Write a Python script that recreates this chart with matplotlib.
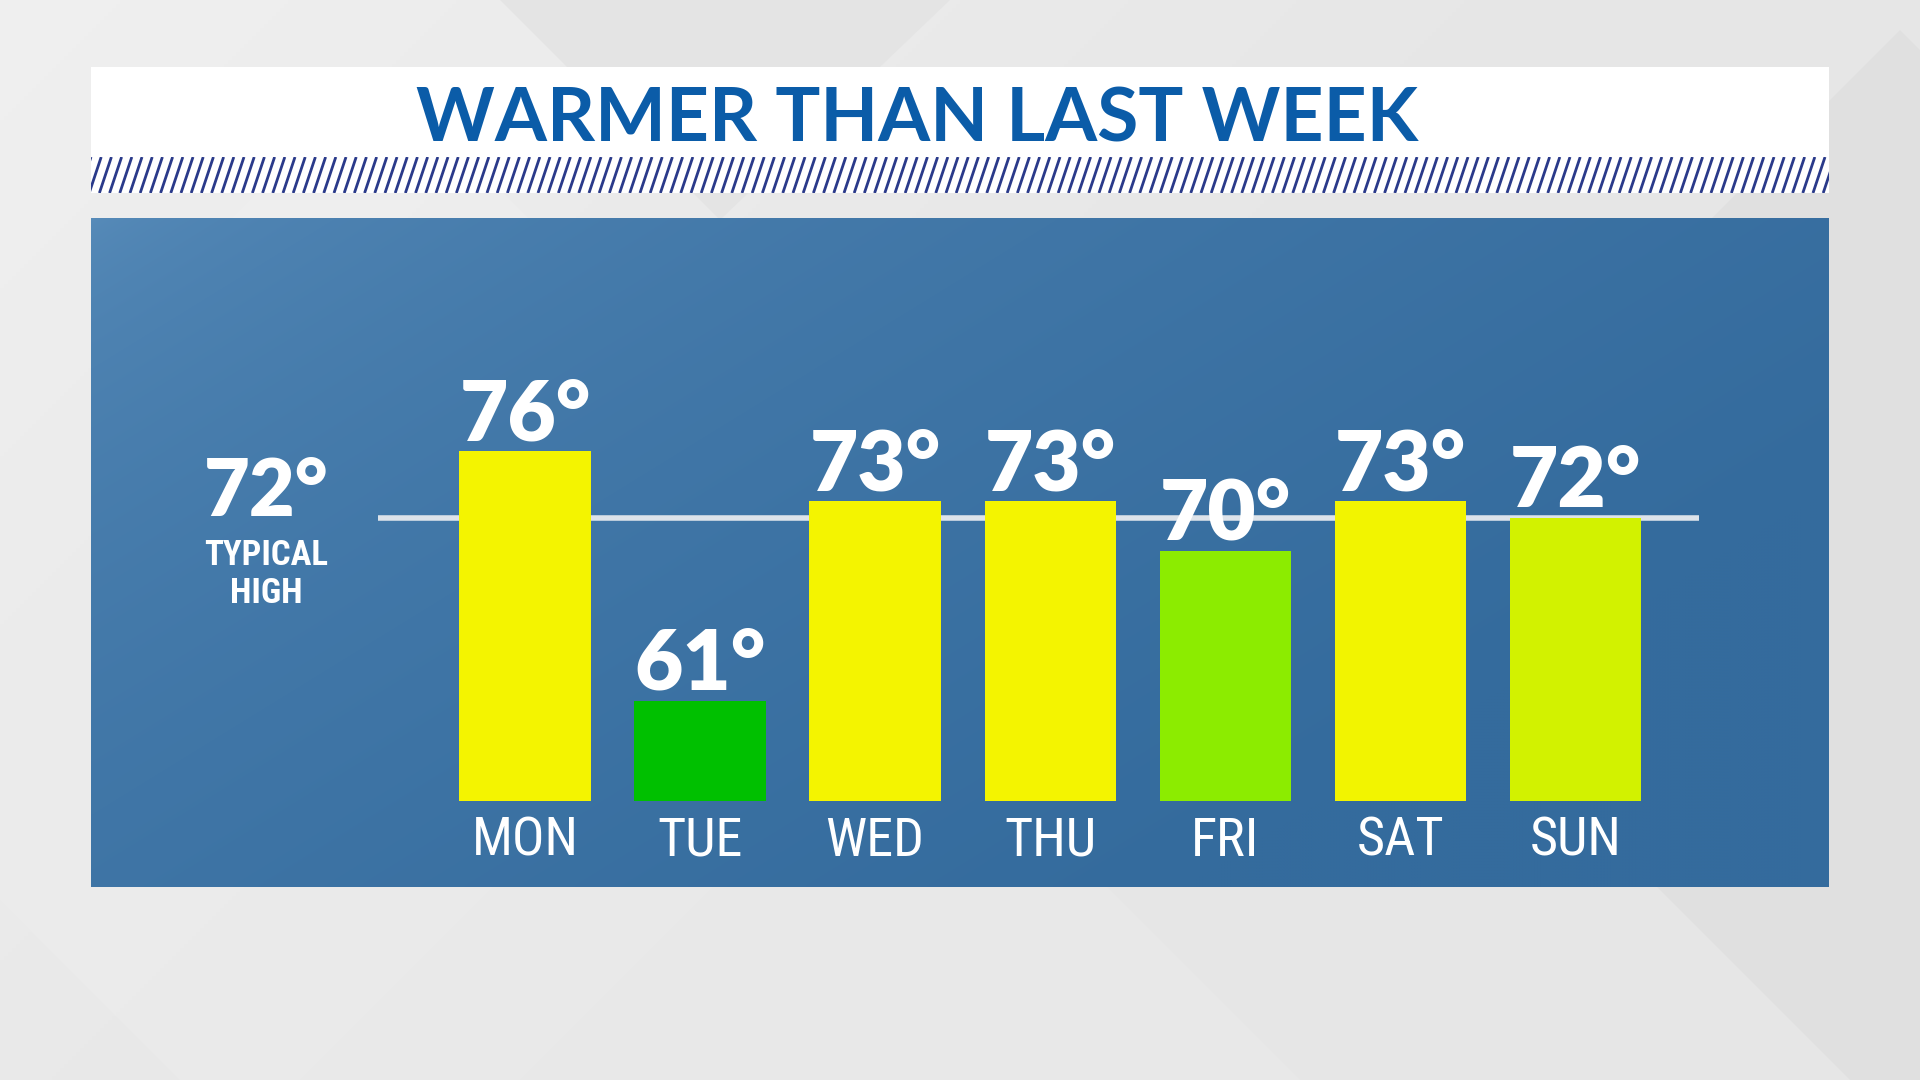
import numpy as np
import matplotlib
matplotlib.use("Agg")
import matplotlib.pyplot as plt
from matplotlib.patches import Rectangle, Polygon
from matplotlib.collections import LineCollection

# ---------------- data ----------------
days = ["MON", "TUE", "WED", "THU", "FRI", "SAT", "SUN"]
highs = [76, 61, 73, 73, 70, 73, 72]
bar_colors = ["#f4f400", "#00c000", "#f4f400", "#f4f400", "#8cec00", "#f2f400", "#d2f200"]
typical_high = 72
title = "WARMER THAN LAST WEEK"
typical_label = ["TYPICAL", "HIGH"]
base_temp = 55

NARROW = ["Roboto Condensed", "Liberation Sans Narrow", "Roboto", "DejaVu Sans"]
BOLD = ["Lato", "DejaVu Sans"]

W, H = 1920, 1080
fig = plt.figure(figsize=(W / 100, H / 100), dpi=100)

# ---------------- background layer (pixel coords) ----------------
bg = fig.add_axes([0, 0, 1, 1])
bg.set_xlim(0, W)
bg.set_ylim(H, 0)
bg.axis("off")

yy, xx = np.mgrid[0:H:4, 0:W:4]
g = 0.905 + 0.035 * np.clip(1 - (xx + yy) / 1500, 0, 1)
bg.imshow(np.dstack([g, g, g]), extent=(0, W, H, 0), aspect="auto", zorder=0)

# faint diamond shapes
diamonds = [
    ([(-200, 700), (350, 150), (900, 700), (350, 1250)], "#ececec"),
    ([(300, 1080), (800, 580), (1300, 1080), (800, 1580)], "#e9e9e9"),
    ([(1350, 580), (1900, 30), (2450, 580), (1900, 1130)], "#dedede"),
    ([(150, 300), (380, 70), (600, 290), (380, 520)], "#efefef"),
    ([(500, 0), (720, -220), (950, 0), (720, 220)], "#e2e2e2"),
]
for pts, c in diamonds:
    bg.add_patch(Polygon(pts, closed=True, facecolor=c, edgecolor="none", alpha=0.7, zorder=1))

# white title panel
x0, x1 = 91, 1829
bg.add_patch(Rectangle((x0, 67), x1 - x0, 126, facecolor="white", edgecolor="none", zorder=2))

# hatch band
hy0, hy1 = 157, 193
slant = 12
segs = []
for xs in np.arange(x0 - slant, x1 + 10, 10.2):
    segs.append([(xs, hy1), (xs + slant, hy0)])
lc = LineCollection(segs, colors="#2a3a8a", linewidths=2.0, zorder=3)
bg.add_collection(lc)
lc.set_clip_path(Rectangle((x0, hy0), x1 - x0, hy1 - hy0, transform=bg.transData))

# blue panel with diagonal gradient
py0, py1 = 218, 887
pyy, pxx = np.mgrid[0:(py1 - py0):3, 0:(x1 - x0):3]
t = np.clip((pxx / 1738.0) * 0.8 + (pyy / 669.0) * 0.5, 0, 1)
t = t ** 0.5
c_light = np.array([0x58, 0x8c, 0xba]) / 255.0
c_dark = np.array([0x34, 0x6b, 0x9d]) / 255.0
img = c_light[None, None, :] * (1 - t[..., None]) + c_dark[None, None, :] * t[..., None]
bg.imshow(img, extent=(x0, x1, py1, py0), aspect="auto", zorder=2, interpolation="bilinear")

# title
fig.text(917 / W, 1 - 141 / H, title, ha="center", va="baseline",
         fontsize=54, fontweight="bold", color="#0b5ca8", family=BOLD)

# ---------------- chart layer ----------------
ax = fig.add_axes([x0 / W, (H - py1) / H, (x1 - x0) / W, (py1 - py0) / H])
ax.patch.set_alpha(0)
ax.set_xlim(-2.48, 7.45)
ax.set_ylim(49.83, 90.0)
ax.axis("off")

xpos = np.arange(len(days))
ax.plot([-0.84, 6.71], [typical_high, typical_high], color="#dde3ea", lw=4.0,
        solid_capstyle="butt", zorder=1)
ax.bar(xpos, [h - base_temp for h in highs], bottom=base_temp, width=0.75,
       color=bar_colors, edgecolor="none", zorder=2)

for x, h in zip(xpos, highs):
    ax.annotate(f"{h}°", (x, h), xytext=(0, 8), textcoords="offset points",
                ha="center", va="baseline", fontsize=60, fontweight="heavy",
                color="white", family=BOLD, zorder=4)

for x, d in zip(xpos, days):
    ax.text(x, 51.7, d, ha="center", va="baseline", fontsize=39, color="white",
            family=NARROW, zorder=4)

ax.text(-1.477, 72.08, f"{typical_high}°", ha="center", va="baseline", fontsize=57,
        fontweight="heavy", color="white", family=BOLD, zorder=4)
ax.text(-1.477, 69.19, typical_label[0], ha="center", va="baseline", fontsize=25,
        fontweight="bold", color="white", family=NARROW, zorder=4)
ax.text(-1.477, 66.9, typical_label[1], ha="center", va="baseline", fontsize=25,
        fontweight="bold", color="white", family=NARROW, zorder=4)

fig.savefig("out.png", dpi=100)
